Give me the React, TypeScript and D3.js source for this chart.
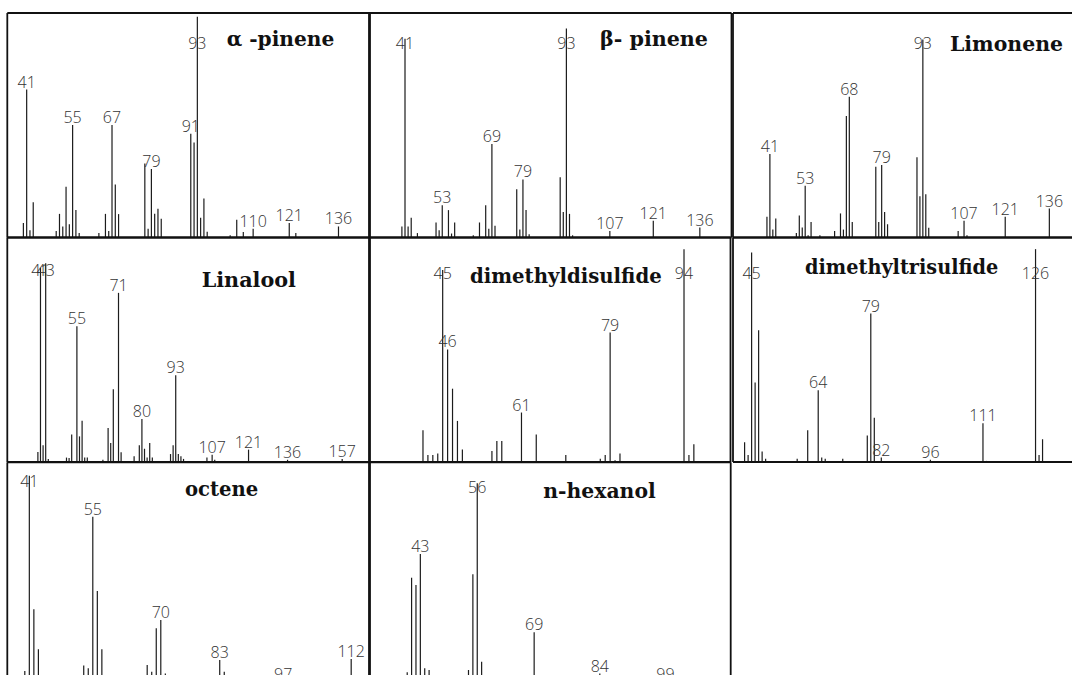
import React from 'react';
import * as d3 from 'd3';

// ---- α-pinene ----
const aPineneMz = [40, 41, 42, 43, 50, 51, 52, 53, 54, 55, 56, 57, 63, 65, 66, 67, 68, 69, 77, 78, 79, 80, 81, 82, 91, 92, 93, 94, 95, 96, 103, 105, 107, 110, 121, 123, 136];
const aPineneInt = [6.6, 67, 3.3, 16, 3, 10.7, 5, 23, 6, 51, 12.4, 2, 2, 10.7, 3, 51, 24, 10.6, 33.5, 4, 31, 10.7, 13, 8.5, 47, 43, 100, 9, 17.7, 2.6, 1, 8, 2.5, 4, 6.6, 2, 5];
const aPineneLabels = [41, 55, 67, 79, 91, 93, 110, 121, 136];

// ---- β-pinene ----
const bPineneMz = [40, 41, 42, 43, 45, 51, 52, 53, 55, 56, 57, 63, 65, 67, 68, 69, 70, 77, 78, 79, 80, 81, 91, 92, 93, 94, 95, 107, 121, 136];
const bPineneInt = [5, 90, 5, 9, 2, 6.8, 3.3, 14.6, 12.4, 1.8, 6.8, 1, 6.8, 14.6, 4, 42.3, 5.3, 21.9, 3.6, 26.3, 12.4, 1.5, 27.3, 11.5, 94.7, 10.7, 1, 3, 7.6, 4.5];
const bPineneLabels = [41, 53, 69, 79, 93, 107, 121, 136];

// ---- Limonene ----
const limoneneMz = [40, 41, 42, 43, 50, 51, 52, 53, 54, 55, 58, 63, 65, 66, 67, 68, 69, 77, 78, 79, 80, 81, 91, 92, 93, 94, 95, 105, 107, 108, 121, 136];
const limoneneInt = [9.4, 37.8, 3.6, 8.6, 2, 10, 4.5, 23.4, 1, 7, 1, 3, 10.9, 3.6, 55, 63.7, 7, 32, 7, 32.8, 11.6, 6, 36.3, 18.7, 89.7, 19.6, 4.4, 2.9, 7.6, 1, 9.4, 13.1];
const limoneneLabels = [41, 53, 68, 79, 93, 107, 121, 136];

// ---- Linalool ----
const linaloolMz = [40, 41, 42, 43, 44, 51, 52, 53, 55, 56, 57, 58, 59, 65, 67, 68, 69, 71, 72, 77, 79, 80, 81, 82, 83, 84, 91, 92, 93, 94, 95, 96, 105, 107, 108, 121, 136, 157];
const linaloolInt = [4.5, 88, 7.6, 90, 1.4, 2, 1.8, 12.4, 61.5, 11.6, 18.7, 2, 2, 1, 15.4, 8.6, 33, 76.6, 4.4, 2.6, 7.6, 19.5, 6, 2, 8.6, 2, 3.6, 7.6, 39.3, 3.6, 2.6, 1.4, 2, 3.3, 1, 5.6, 1, 1.4];
const linaloolLabels = [41, 43, 55, 71, 80, 93, 107, 121, 136, 157];

// ---- dimethyldisulfide ----
const dmdsMz = [41, 42, 43, 44, 45, 46, 47, 48, 49, 55, 56, 57, 61, 64, 70, 77, 78, 79, 80, 81, 94, 95, 96];
const dmdsInt = [14.4, 3.2, 3.2, 3.9, 87, 51, 33.2, 18.6, 5.7, 5, 9.5, 9.5, 22.4, 12.5, 3.2, 1.5, 3.2, 58.6, 0.8, 3.9, 96.4, 3.2, 8];
const dmdsLabels = [45, 46, 61, 79, 94];

// ---- dimethyltrisulfide ----
const dmtsMz = [43, 44, 45, 46, 47, 48, 49, 58, 61, 64, 65, 66, 71, 78, 79, 80, 82, 96, 111, 112, 126, 127, 128];
const dmtsInt = [9, 3.2, 94.9, 36, 59.7, 4.7, 1.5, 1.5, 14.4, 32.5, 2, 1.5, 1.5, 12, 67.2, 20, 2, 1, 17.5, 0.5, 96.4, 3.2, 10.3];
const dmtsLabels = [45, 64, 79, 82, 96, 111, 126];

// ---- octene ----
const octeneMz = [40, 41, 42, 43, 53, 54, 55, 56, 57, 67, 68, 69, 70, 71, 83, 84, 97, 112];
const octeneInt = [7.2, 95.6, 35.1, 17, 9.6, 8.4, 77, 43.4, 17, 9.9, 6.8, 26.5, 30.3, 6, 12.1, 6.8, 2, 12.6];
const octeneLabels = [41, 55, 70, 83, 97, 112];

// ---- n-hexanol ----
const hexanolMz = [40, 41, 42, 43, 44, 45, 54, 55, 56, 57, 69, 84, 99];
const hexanolInt = [6.6, 49.4, 46.1, 60.1, 8.4, 7.6, 7.6, 51, 92.2, 11.4, 24.7, 6, 2];
const hexanolLabels = [43, 56, 69, 84, 99];

const ROW_TOPS = [13, 237.5, 462.3];
const ROW_H = 224.5;
const FULL = 220.8; // pixel height of a 100 % peak

type Panel = {
  title: string;
  mz: number[];
  intensity: number[];
  labels: number[];
  x0: number;
  x1: number;
  row: number;
  domain: [number, number];
  right: boolean;
  titleX: number;
  titleY: number;
  titleW: number;
  labelFloor: number;
};

const panels: Panel[] = [
  { title: 'α -pinene', mz: aPineneMz, intensity: aPineneInt, labels: aPineneLabels, x0: 7.3, x1: 370, row: 0, domain: [35.1, 145.6], right: true, titleX: 226.7, titleY: 46, titleW: 107.6, labelFloor: 36 },
  { title: 'β- pinene', mz: bPineneMz, intensity: bPineneInt, labels: bPineneLabels, x0: 369, x1: 731.5, row: 0, domain: [29.4, 146.2], right: true, titleX: 600, titleY: 46, titleW: 108, labelFloor: 36 },
  { title: 'Limonene', mz: limoneneMz, intensity: limoneneInt, labels: limoneneLabels, x0: 733, x1: 1072, row: 0, domain: [28.46, 143.7], right: false, titleX: 950, titleY: 51, titleW: 113, labelFloor: 36 },
  { title: 'Linalool', mz: linaloolMz, intensity: linaloolInt, labels: linaloolLabels, x0: 7.3, x1: 370, row: 1, domain: [28.24, 167.7], right: true, titleX: 201.7, titleY: 287.3, titleW: 94.3, labelFloor: 38 },
  { title: 'dimethyldisulfide', mz: dmdsMz, intensity: dmdsInt, labels: dmdsLabels, x0: 369, x1: 730.5, row: 1, domain: [30.04, 103.44], right: true, titleX: 470, titleY: 283.3, titleW: 191.7, labelFloor: 41 },
  { title: 'dimethyltrisulfide', mz: dmtsMz, intensity: dmtsInt, labels: dmtsLabels, x0: 733, x1: 1072, row: 1, domain: [39.69, 136.4], right: false, titleX: 805, titleY: 274, titleW: 193.3, labelFloor: 41 },
  { title: 'octene', mz: octeneMz, intensity: octeneInt, labels: octeneLabels, x0: 7.3, x1: 370, row: 2, domain: [36.14, 116.15], right: true, titleX: 185, titleY: 495.7, titleW: 73.3, labelFloor: 25 },
  { title: 'n-hexanol', mz: hexanolMz, intensity: hexanolInt, labels: hexanolLabels, x0: 369, x1: 730.7, row: 2, domain: [31.27, 113.9], right: true, titleX: 543.3, titleY: 498.3, titleW: 112.4, labelFloor: 31 },
];

function Spectrum({ p }: { p: Panel }) {
  const top = ROW_TOPS[p.row];
  const axisY = top + ROW_H;
  const x = d3.scaleLinear().domain(p.domain).range([p.x0, p.x1]);
  const y = d3.scaleLinear().domain([0, 100]).range([axisY, axisY - FULL]);
  const intensityOf = new Map(p.mz.map((m, i) => [m, p.intensity[i]]));
  const frame = '#111';
  return (
    <g>
      {p.mz.map((m, i) => (
        <line key={m} x1={x(m)} x2={x(m)} y1={axisY} y2={y(p.intensity[i])} stroke="#1c1c1c" strokeWidth={1.2} />
      ))}
      {p.labels.map((m) => {
        const v = intensityOf.get(m) ?? 0;
        const base = Math.max(y(v) - 2, top + p.labelFloor);
        return (
          <text key={'l' + m} x={x(m)} y={base} textAnchor="middle" fontFamily="'Open Sans', 'Liberation Sans', sans-serif" fontWeight={300} fontSize={16} fill="#333">
            {m}
          </text>
        );
      })}
      <text x={p.titleX} y={p.titleY} fontFamily="'DejaVu Serif', serif" fontWeight="bold" fontSize={20} fill="#111" textLength={p.titleW} lengthAdjust="spacingAndGlyphs">
        {p.title}
      </text>
      <line x1={p.x0} x2={p.x1} y1={top} y2={top} stroke={frame} strokeWidth={1.8} />
      <line x1={p.x0} x2={p.x1} y1={axisY} y2={axisY} stroke={frame} strokeWidth={1.8} />
      <line x1={p.x0} x2={p.x0} y1={top} y2={axisY} stroke={frame} strokeWidth={1.8} />
      {p.right && <line x1={p.x1} x2={p.x1} y1={top} y2={axisY} stroke={frame} strokeWidth={1.8} />}
    </g>
  );
}

export default function App() {
  return (
    <svg width={1072} height={675} style={{ position: 'absolute', left: 0, top: 0, background: '#fff' }}>
      <rect x={0} y={0} width={1072} height={675} fill="#fff" />
      {panels.map((p) => (
        <Spectrum key={p.title} p={p} />
      ))}
    </svg>
  );
}
